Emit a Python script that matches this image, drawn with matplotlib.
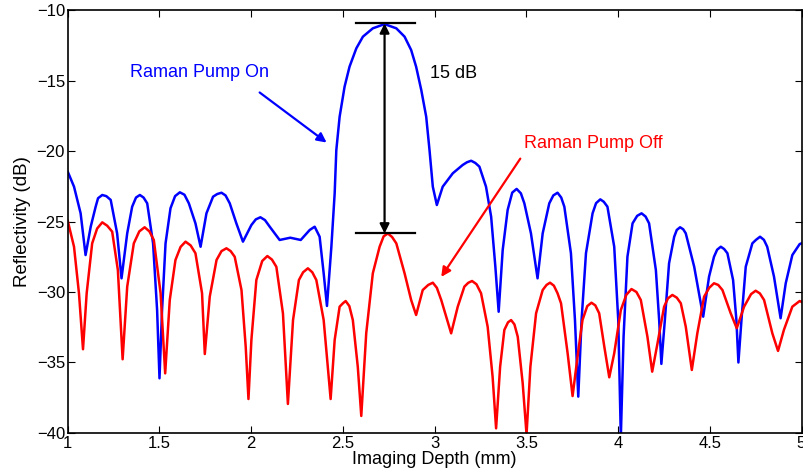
import matplotlib
matplotlib.use("Agg")
import matplotlib.pyplot as plt

# Raman pump on (blue)
depth_on = [1.0, 1.034, 1.070, 1.097, 1.125, 1.152, 1.165, 1.188, 1.210, 1.234,
            1.269, 1.293, 1.324, 1.351, 1.372, 1.393, 1.413, 1.433, 1.465, 1.487,
            1.500, 1.514, 1.533, 1.560, 1.585, 1.611, 1.636, 1.660, 1.696, 1.724,
            1.756, 1.792, 1.815, 1.838, 1.860, 1.883, 1.919, 1.955, 2.001, 2.025,
            2.050, 2.075, 2.101, 2.155, 2.213, 2.270, 2.319, 2.346, 2.373, 2.395,
            2.413, 2.437, 2.455, 2.464, 2.482, 2.509, 2.536, 2.573, 2.609, 2.663,
            2.727, 2.791, 2.836, 2.872, 2.899, 2.927, 2.954, 2.972, 2.990, 3.012,
            3.044, 3.099, 3.153, 3.176, 3.199, 3.222, 3.244, 3.280, 3.308, 3.331,
            3.349, 3.371, 3.398, 3.423, 3.447, 3.470, 3.489, 3.525, 3.561, 3.589,
            3.625, 3.647, 3.670, 3.690, 3.707, 3.743, 3.765, 3.783, 3.801, 3.825,
            3.861, 3.880, 3.903, 3.922, 3.942, 3.979, 4.001, 4.015, 4.030, 4.051,
            4.079, 4.104, 4.128, 4.150, 4.169, 4.206, 4.224, 4.236, 4.255, 4.278,
            4.306, 4.320, 4.338, 4.355, 4.369, 4.415, 4.464, 4.496, 4.523, 4.540,
            4.560, 4.578, 4.596, 4.627, 4.645, 4.656, 4.674, 4.696, 4.732, 4.752,
            4.774, 4.795, 4.813, 4.850, 4.886, 4.914, 4.950, 4.990, 5.0]
refl_on = [-21.47, -22.53, -24.42, -27.38, -25.37, -23.95, -23.35, -23.12, -23.20, -23.47,
           -25.84, -29.03, -25.84, -23.95, -23.30, -23.12, -23.30, -23.71, -26.55, -31.28,
           -36.12, -31.28, -26.55, -24.06, -23.20, -22.93, -23.10, -23.71, -25.13, -26.79,
           -24.42, -23.24, -23.05, -22.96, -23.15, -23.71, -25.13, -26.43, -25.25, -24.85,
           -24.70, -24.90, -25.37, -26.31, -26.15, -26.31, -25.60, -25.37, -26.08, -28.67,
           -30.99, -26.79, -23.00, -19.93, -17.57, -15.44, -14.02, -12.72, -11.89, -11.30,
           -11.0, -11.30, -11.89, -12.84, -14.02, -15.67, -17.57, -19.93, -22.53, -23.83,
           -22.53, -21.58, -20.99, -20.80, -20.69, -20.85, -21.11, -22.53, -24.66, -28.21,
           -31.40, -27.02, -24.18, -22.95, -22.69, -23.00, -23.71, -25.84, -29.03, -25.84,
           -23.71, -23.15, -22.96, -23.30, -23.95, -27.25, -31.99, -37.42, -31.99, -27.25,
           -24.42, -23.70, -23.43, -23.60, -23.95, -26.79, -31.99, -40.3, -33.17, -27.50,
           -25.13, -24.60, -24.42, -24.65, -25.13, -28.44, -31.99, -35.10, -31.99, -27.96,
           -26.08, -25.60, -25.41, -25.55, -25.84, -28.21, -31.75, -28.91, -27.50, -27.00,
           -26.79, -26.95, -27.25, -29.15, -31.99, -35.0, -31.75, -28.21, -26.55, -26.30,
           -26.08, -26.30, -26.79, -28.91, -31.86, -29.38, -27.38, -26.60, -26.55]

# Raman pump off (red)
depth_off = [1.0, 1.034, 1.061, 1.083, 1.103, 1.133, 1.160, 1.188, 1.215, 1.242,
             1.273, 1.299, 1.324, 1.360, 1.390, 1.419, 1.445, 1.469, 1.506, 1.531,
             1.556, 1.587, 1.615, 1.642, 1.670, 1.696, 1.732, 1.747, 1.774, 1.811,
             1.838, 1.865, 1.888, 1.910, 1.947, 1.970, 1.985, 2.001, 2.028, 2.060,
             2.088, 2.113, 2.137, 2.173, 2.200, 2.228, 2.260, 2.283, 2.309, 2.333,
             2.355, 2.395, 2.433, 2.455, 2.482, 2.500, 2.515, 2.535, 2.554, 2.581,
             2.600, 2.627, 2.663, 2.700, 2.722, 2.745, 2.768, 2.791, 2.836, 2.872,
             2.899, 2.935, 2.965, 2.990, 3.012, 3.036, 3.090, 3.126, 3.162, 3.183,
             3.204, 3.228, 3.253, 3.289, 3.316, 3.335, 3.357, 3.380, 3.400, 3.417,
             3.435, 3.453, 3.480, 3.501, 3.522, 3.553, 3.589, 3.610, 3.629, 3.650,
             3.670, 3.689, 3.725, 3.752, 3.779, 3.806, 3.832, 3.855, 3.876, 3.897,
             3.925, 3.952, 3.979, 4.015, 4.045, 4.073, 4.100, 4.124, 4.160, 4.186,
             4.215, 4.251, 4.272, 4.296, 4.320, 4.342, 4.369, 4.402, 4.432, 4.469,
             4.497, 4.523, 4.546, 4.569, 4.614, 4.647, 4.687, 4.725, 4.750, 4.773,
             4.796, 4.841, 4.872, 4.904, 4.950, 4.990, 5.0]
refl_off = [-24.96, -26.79, -30.09, -34.06, -30.09, -26.55, -25.50, -25.06, -25.30, -25.72,
            -28.44, -34.77, -29.62, -26.55, -25.70, -25.41, -25.70, -26.31, -30.09, -35.77,
            -30.57, -27.73, -26.80, -26.43, -26.70, -27.25, -30.09, -34.40, -30.33, -27.73,
            -27.10, -26.90, -27.10, -27.50, -29.86, -33.88, -37.59, -33.40, -29.15, -27.80,
            -27.45, -27.70, -28.21, -31.51, -37.94, -31.99, -29.15, -28.60, -28.32, -28.60,
            -29.15, -31.99, -37.59, -33.40, -31.04, -30.80, -30.64, -31.00, -31.99, -35.30,
            -38.79, -32.93, -28.67, -26.79, -26.05, -25.85, -26.10, -26.55, -28.67, -30.57,
            -31.63, -29.86, -29.50, -29.34, -29.70, -30.57, -32.93, -31.04, -29.62, -29.35,
            -29.22, -29.45, -30.09, -32.46, -36.01, -39.67, -35.30, -32.69, -32.15, -31.99,
            -32.30, -33.17, -36.47, -40.1, -35.30, -31.51, -29.86, -29.50, -29.34, -29.55,
            -30.09, -30.80, -34.35, -37.38, -34.59, -31.99, -31.00, -30.76, -30.95, -31.51,
            -33.88, -36.05, -34.35, -31.28, -30.20, -29.79, -30.00, -30.57, -33.17, -35.65,
            -33.64, -31.04, -30.45, -30.21, -30.40, -30.80, -32.46, -35.53, -32.93, -30.33,
            -29.70, -29.38, -29.50, -29.86, -31.51, -32.57, -31.04, -30.15, -29.91, -30.10,
            -30.57, -32.93, -34.18, -32.69, -31.04, -30.64, -30.70]

x_ticks = [1, 1.5, 2, 2.5, 3, 3.5, 4, 4.5, 5]
x_tick_labels = ["1", "1.5", "2", "2.5", "3", "3.5", "4", "4.5", "5"]
y_ticks = [-40, -35, -30, -25, -20, -15, -10]

peak_on = -10.95
peak_off = -25.85
peak_x = 2.727

font = "Liberation Sans"

fig = plt.figure(figsize=(8.04, 4.74), dpi=100)
ax = fig.add_axes([0.0843, 0.0865, 0.9126, 0.8924])

ax.plot(depth_on, refl_on, color="#0000ff", lw=1.8, solid_joinstyle="round")
ax.plot(depth_off, refl_off, color="#ff0000", lw=1.8, solid_joinstyle="round")

ax.set_xlim(1, 5)
ax.set_ylim(-40, -10)
ax.set_xticks(x_ticks)
ax.set_xticklabels(x_tick_labels)
ax.set_yticks(y_ticks)
ax.tick_params(direction="in", length=5, width=0.8, top=True, right=True,
               labelsize=12, pad=2)
for lab in ax.get_xticklabels() + ax.get_yticklabels():
    lab.set_family(font)
for sp in ax.spines.values():
    sp.set_linewidth(1.2)

ax.set_xlabel("Imaging Depth (mm)", family=font, fontsize=13, labelpad=0)
ax.set_ylabel("Reflectivity (dB)", family=font, fontsize=13.5, labelpad=4)

# 15 dB marker
ax.plot([2.569, 2.891], [peak_on, peak_on], color="black", lw=1.6)
ax.plot([2.569, 2.891], [peak_off, peak_off], color="black", lw=1.6)
ax.annotate("", xy=(peak_x, peak_on), xytext=(peak_x, peak_off),
            arrowprops=dict(arrowstyle="<|-|>", color="black", lw=1.6,
                            mutation_scale=14, shrinkA=0, shrinkB=0))
ax.text(2.975, -14.5, "15 dB", family=font, fontsize=13, va="center", ha="left")

ax.text(1.338, -14.4, "Raman Pump On", color="#0000ff", family=font,
        fontsize=13, va="center", ha="left")
ax.annotate("", xy=(2.411, -19.4), xytext=(2.046, -15.85),
            arrowprops=dict(arrowstyle="-|>", color="#0000ff", lw=1.6,
                            mutation_scale=14, shrinkA=0, shrinkB=0))

ax.text(3.485, -19.5, "Raman Pump Off", color="#ff0000", family=font,
        fontsize=13, va="center", ha="left")
ax.annotate("", xy=(3.036, -28.93), xytext=(3.467, -20.54),
            arrowprops=dict(arrowstyle="-|>", color="#ff0000", lw=1.6,
                            mutation_scale=14, shrinkA=0, shrinkB=0))

fig.savefig("out.png", dpi=100)
